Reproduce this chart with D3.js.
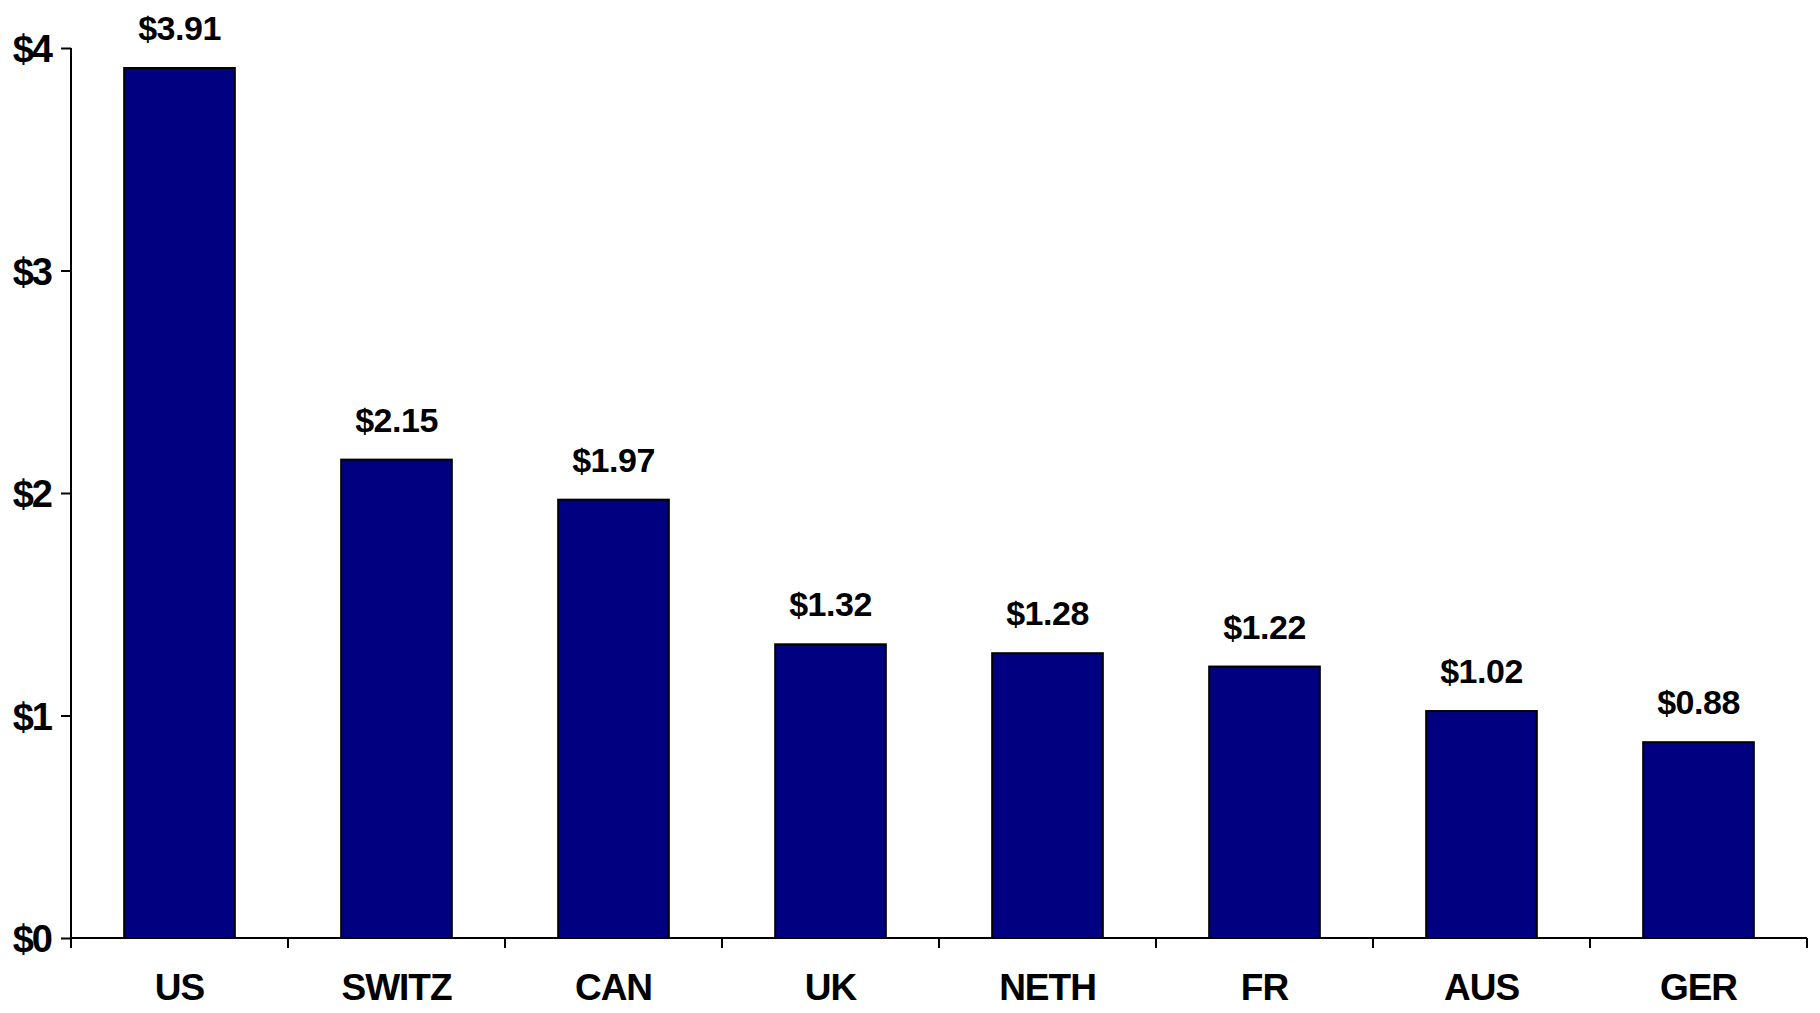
<!DOCTYPE html>
<html>
<head>
<meta charset="utf-8">
<script src="https://cdn.jsdelivr.net/npm/d3@7"></script>
<style>
  html, body { margin: 0; padding: 0; background: #fff; }
  svg { display: block; }
  text { font-family: "Liberation Sans", Arial, sans-serif; font-weight: bold; fill: #000; }
</style>
</head>
<body>
<svg id="chart" width="1820" height="1013"></svg>
<script>
const categories = ["US", "SWITZ", "CAN", "UK", "NETH", "FR", "AUS", "GER"];
const values = [3.91, 2.15, 1.97, 1.32, 1.28, 1.22, 1.02, 0.88];
const yTicks = [0, 1, 2, 3, 4];
const yTickLabels = ["$0", "$1", "$2", "$3", "$4"];
const valueLabels = ["$3.91", "$2.15", "$1.97", "$1.32", "$1.28", "$1.22", "$1.02", "$0.88"];

(function () {
const svg = d3.select("#chart");
const mLeft = 71, mRight = 1807, mTop = 48, mBottom = 938;

const x = d3.scaleBand().domain(categories).range([mLeft, mRight]).paddingInner(0.49).paddingOuter(0.245);
const xb = d3.scaleBand().domain(categories).range([mLeft, mRight]);
const y = d3.scaleLinear().domain([0, 4]).range([mBottom, mTop]);

// bars
svg.append("g").selectAll("rect").data(values).join("rect")
  .attr("x", (d, i) => x(categories[i]))
  .attr("y", d => y(d))
  .attr("width", x.bandwidth())
  .attr("height", d => y(0) - y(d))
  .attr("fill", "#000080")
  .attr("stroke", "#000")
  .attr("stroke-width", 2);

// y axis
const yAxis = svg.append("g").attr("transform", `translate(${mLeft},0)`)
  .call(d3.axisLeft(y).tickValues(yTicks).tickFormat((d, i) => yTickLabels[i]).tickSize(10).tickPadding(10));
yAxis.select(".domain").attr("stroke", "#000").attr("stroke-width", 2).attr("d", `M0,${mTop}V${mBottom}`);
yAxis.selectAll(".tick line").attr("stroke", "#000").attr("stroke-width", 2);
yAxis.selectAll(".tick text").attr("font-size", 38).attr("font-family", "Liberation Sans, Arial, sans-serif")
  .attr("font-weight", "bold").attr("letter-spacing", -2).attr("dy", "0.36em").attr("fill", "#000");

// x axis
const xAxis = svg.append("g").attr("transform", `translate(0,${mBottom})`)
  .call(d3.axisBottom(xb).tickSize(0).tickPadding(0).tickFormat(d => d));
xAxis.select(".domain").attr("stroke", "#000").attr("stroke-width", 2).attr("d", `M${mLeft},0H${mRight}`);
xAxis.selectAll(".tick text").attr("font-size", 37).attr("font-family", "Liberation Sans, Arial, sans-serif")
  .attr("font-weight", "bold").attr("letter-spacing", -1).attr("dy", 0).attr("y", 62).attr("fill", "#000");
// category boundary ticks
const boundaries = d3.range(categories.length + 1).map(i => i === categories.length ? mRight : xb(categories[i]));
svg.append("g").selectAll("line").data(boundaries).join("line")
  .attr("x1", d => d).attr("x2", d => d)
  .attr("y1", mBottom).attr("y2", mBottom + 10)
  .attr("stroke", "#000").attr("stroke-width", 2);

// value labels
svg.append("g").selectAll("text").data(values).join("text")
  .attr("x", (d, i) => x(categories[i]) + x.bandwidth() / 2)
  .attr("y", d => y(d) - 28)
  .attr("text-anchor", "middle")
  .attr("font-size", 34)
  .attr("letter-spacing", -0.5)
  .text((d, i) => valueLabels[i]);
})();
</script>
</body>
</html>
